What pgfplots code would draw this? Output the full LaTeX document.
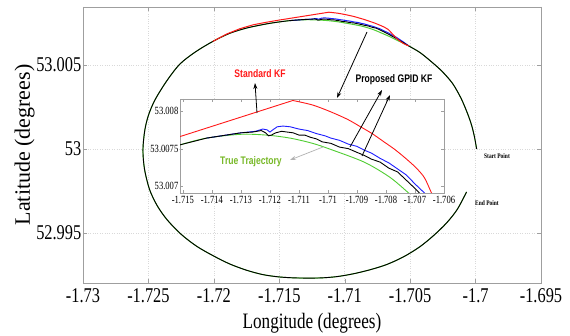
\documentclass[border=0pt]{standalone}
\usepackage{pgfplots}
\pgfplotsset{compat=1.18}
\usepackage{pgfplotstable}
\usepackage{fontspec}
\setmainfont{Liberation Serif}
\newfontfamily\nserif[FakeStretch=0.78]{Liberation Serif}
\newfontfamily\nsans[FakeStretch=0.78]{Liberation Sans}
\usetikzlibrary{arrows.meta}
\definecolor{truegreen}{RGB}{80,205,50}
\definecolor{txtgreen}{RGB}{120,185,40}
\definecolor{kfred}{RGB}{255,25,25}
\definecolor{gpidblue}{RGB}{30,30,255}

% high-precision shift of the geographic coordinates (TeX's own arithmetic is too coarse)
\pgfplotsset{
  geo/.style={
    x coord trafo/.code={\edef\pgfmathresult{\fpeval{(##1+1.7)*1000}}},
    y coord trafo/.code={\edef\pgfmathresult{\fpeval{(##1-53)*1000}}},
  }
}

% True trajectory (longitude, latitude)
\pgfplotstableread{
lon lat
-1.69992 53.00000
-1.70008 53.00070
-1.70030 53.00140
-1.70061 53.00210
-1.70110 53.00300
-1.70176 53.00390
-1.70260 53.00465
-1.70351 53.00528
-1.70427 53.00575
-1.70510 53.00613
-1.70595 53.00645
-1.70660 53.00670
-1.70722 53.00691
-1.70787 53.00712
-1.70875 53.00732
-1.70991 53.00749
-1.71053 53.00757
-1.71131 53.00764
-1.71213 53.00768
-1.71302 53.00769
-1.71418 53.00764
-1.71510 53.00755
-1.71600 53.00744
-1.71748 53.00720
-1.71880 53.00688
-1.72008 53.00640
-1.72140 53.00578
-1.72260 53.00505
-1.72360 53.00405
-1.72450 53.00292
-1.72500 53.00200
-1.72528 53.00110
-1.72542 52.99994
-1.72530 52.99880
-1.72492 52.99760
-1.72435 52.99665
-1.72359 52.99580
-1.72250 52.99492
-1.72130 52.99420
-1.72000 52.99362
-1.71878 52.99315
-1.71750 52.99278
-1.71626 52.99252
-1.71500 52.99238
-1.71366 52.99232
-1.71191 52.99232
-1.71060 52.99240
-1.70939 52.99256
-1.70810 52.99280
-1.70679 52.99312
-1.70550 52.99358
-1.70427 52.99417
-1.70320 52.99485
-1.70221 52.99560
-1.70140 52.99640
-1.70069 52.99744
}\truth

% Proposed GPID KF (black)
\pgfplotstableread{
lon lat
-1.69992 53.00000
-1.70008 53.00070
-1.70030 53.00140
-1.70061 53.00210
-1.70110 53.00300
-1.70176 53.00390
-1.70260 53.00465
-1.70351 53.00528
-1.70427 53.00575
-1.70510 53.00613
-1.70550 53.00632
-1.70600 53.00655
-1.70640 53.00672
-1.70670 53.00685
-1.70700 53.00697
-1.70730 53.00708
-1.70760 53.00719
-1.70790 53.00724
-1.70820 53.00732
-1.70850 53.00736
-1.70875 53.00741
-1.70900 53.00745
-1.70930 53.00750
-1.70960 53.00752
-1.70990 53.00757
-1.71020 53.00759
-1.71040 53.00763
-1.71060 53.00765
-1.71080 53.00768
-1.71100 53.00768
-1.71120 53.00771
-1.71140 53.00772
-1.71160 53.00773
-1.71180 53.00771
-1.71195 53.00768
-1.71205 53.00767
-1.71215 53.00771
-1.71230 53.00774
-1.71260 53.00772
-1.71300 53.00771
-1.71418 53.00764
-1.71510 53.00755
-1.71600 53.00744
-1.71748 53.00720
-1.71880 53.00688
-1.72008 53.00640
-1.72140 53.00578
-1.72260 53.00505
-1.72360 53.00405
-1.72450 53.00292
-1.72500 53.00200
-1.72528 53.00110
-1.72542 52.99994
-1.72530 52.99880
-1.72492 52.99760
-1.72435 52.99665
-1.72359 52.99580
-1.72250 52.99492
-1.72130 52.99420
-1.72000 52.99362
-1.71878 52.99315
-1.71750 52.99278
-1.71626 52.99252
-1.71500 52.99238
-1.71366 52.99232
-1.71191 52.99232
-1.71060 52.99240
-1.70939 52.99256
-1.70810 52.99280
-1.70679 52.99312
-1.70550 52.99358
-1.70427 52.99417
-1.70320 52.99485
-1.70221 52.99560
-1.70140 52.99640
-1.70069 52.99744
}\gpidblack

% Proposed GPID KF (blue)
\pgfplotstableread{
lon lat
-1.70510 53.00613
-1.70550 53.00636
-1.70600 53.00662
-1.70640 53.00679
-1.70670 53.00692
-1.70700 53.00703
-1.70730 53.00715
-1.70760 53.00723
-1.70790 53.00731
-1.70820 53.00737
-1.70850 53.00744
-1.70875 53.00748
-1.70900 53.00753
-1.70930 53.00756
-1.70960 53.00761
-1.70990 53.00764
-1.71010 53.00767
-1.71040 53.00770
-1.71070 53.00774
-1.71100 53.00776
-1.71130 53.00779
-1.71155 53.00780
-1.71175 53.00779
-1.71190 53.00775
-1.71200 53.00772
-1.71210 53.00775
-1.71225 53.00776
-1.71250 53.00773
-1.71300 53.00771
-1.71418 53.00764
}\gpidblue

% Standard KF (red): rising part up to the peak
\pgfplotstableread{
lon lat
-1.72008 53.00640
-1.71900 53.00685
-1.71800 53.00716
-1.71700 53.00739
-1.71600 53.00754
-1.71510 53.00766
-1.71121 53.00814
}\stdkfA

% Standard KF (red): falling part after the peak
\pgfplotstableread{
lon lat
-1.71121 53.00814
-1.71053 53.00808
-1.70991 53.00799
-1.70933 53.00789
-1.70892 53.00780
-1.70848 53.00770
-1.70807 53.00759
-1.70770 53.00749
-1.70729 53.00736
-1.70695 53.00724
-1.70667 53.00711
-1.70643 53.00691
-1.70600 53.00656
-1.70550 53.00627
-1.70510 53.00613
}\stdkfB

\begin{document}
\begin{tikzpicture}
\begin{axis}[
  geo,
  name=main,
  scale only axis, width=458pt, height=276pt,
  xmin=-1.73, xmax=-1.695, ymin=52.99202, ymax=53.00845,
  xtick={-1.73,-1.725,-1.72,-1.715,-1.71,-1.705,-1.7,-1.695},
  xticklabels={-1.73,-1.725,-1.72,-1.715,-1.71,-1.705,-1.7,-1.695},
  ytick={52.995,53,53.005},
  yticklabels={52.995,53,53.005},
  scaled ticks=false,
  grid=major, grid style={gray!30, dotted, line width=0.6pt},
  axis line style={gray!75, line width=0.6pt},
  major tick style={gray!75},
  tick align=inside, major tick length=4pt,
  xticklabel style={font=\nserif\fontsize{21}{21}\selectfont, inner sep=5pt},
  yticklabel style={font=\nserif\fontsize{21}{21}\selectfont, inner sep=1.5pt},
  xlabel={Longitude (degrees)}, ylabel={Latitude (degrees)},
  xlabel style={font=\nserif\fontsize{22}{22}\selectfont, inner sep=0pt, yshift=-6pt},
  ylabel style={font=\fontsize{22}{22}\selectfont, inner sep=0pt},
]
\addplot[truegreen, line width=1pt, smooth] table[x=lon,y=lat] {\truth};
\addplot[gpidblue, line width=1pt] table[x=lon,y=lat] {\gpidblue};
\addplot[black, line width=0.9pt, smooth] table[x=lon,y=lat] {\gpidblack};
\addplot[kfred, line width=1pt] table[x=lon,y=lat] {\stdkfA};
\addplot[kfred, line width=1pt, smooth] table[x=lon,y=lat] {\stdkfB};
\end{axis}

\begin{axis}[
  geo,
  at={(97pt,90pt)}, anchor=south west,
  scale only axis, width=264pt, height=94pt,
  xmin=-1.7151, xmax=-1.7060, ymin=53.00691, ymax=53.00816,
  xtick={-1.715,-1.714,-1.713,-1.712,-1.711,-1.71,-1.709,-1.708,-1.707,-1.706},
  xticklabels={-1.715,-1.714,-1.713,-1.712,-1.711,-1.71,-1.709,-1.708,-1.707,-1.706},
  ytick={53.007,53.0075,53.008},
  yticklabels={53.007,53.0075,53.008},
  scaled ticks=false,
  axis background/.style={fill=white},
  axis line style={gray!75, line width=0.6pt},
  major tick style={gray!75},
  tick align=inside, major tick length=3pt,
  xticklabel style={font=\nserif\fontsize{11}{11}\selectfont, inner sep=3.5pt},
  yticklabel style={font=\nserif\fontsize{11}{11}\selectfont, inner sep=1.5pt},
]
\addplot[truegreen, line width=0.9pt, smooth] table[x=lon,y=lat] {\truth};
\addplot[gpidblue, line width=0.9pt] table[x=lon,y=lat] {\gpidblue};
\addplot[black, line width=0.9pt] table[x=lon,y=lat] {\gpidblack};
\addplot[kfred, line width=0.9pt] table[x=lon,y=lat] {\stdkfA};
\addplot[kfred, line width=0.9pt, smooth] table[x=lon,y=lat] {\stdkfB};
\end{axis}

% annotations
\node[font=\nsans\bfseries\fontsize{11}{11}\selectfont, text=kfred] at (177pt,209pt) {Standard KF};
\draw[-{Stealth[length=6pt,width=4pt]}, line width=0.8pt] (174pt,170pt) -- (172pt,200pt);
\draw[-{Stealth[length=6pt,width=4pt]}, line width=0.8pt] (284pt,251pt) -- (254pt,185pt);
\node[font=\nsans\bfseries\fontsize{11}{11}\selectfont] at (311pt,203pt) {Proposed GPID KF};
\draw[-{Stealth[length=6pt,width=4pt]}, line width=0.8pt] (267pt,136pt) -- (299pt,193pt);
\draw[-{Stealth[length=6pt,width=4pt]}, line width=0.8pt] (279pt,127pt) -- (307pt,188pt);
\node[font=\nsans\bfseries\fontsize{11}{11}\selectfont, text=txtgreen] at (168pt,121pt) {True Trajectory};
\draw[-{Stealth[length=6pt,width=4pt]}, line width=0.7pt, gray!60] (240pt,136pt) -- (207pt,123pt);
\node[font=\nserif\bfseries\fontsize{7}{7}\selectfont] at (414pt,127pt) {Start Point};
\node[font=\nserif\bfseries\fontsize{7}{7}\selectfont] at (404pt,80pt) {End Point};

\path (-83pt,-53pt) rectangle (487pt,283pt);
\end{tikzpicture}
\end{document}
